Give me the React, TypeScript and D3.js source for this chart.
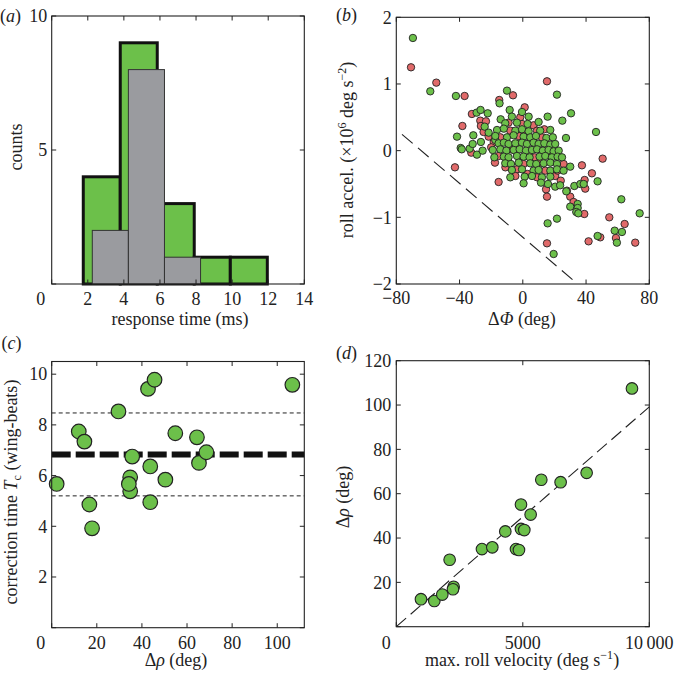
import React from 'react';
import * as d3 from 'd3';

const FONT = "'Liberation Serif', 'DejaVu Serif', serif";
const FS = 18;
const INK = '#222';
const GREEN = '#6cc04a';
const RED = '#e16a6a';
const GRAY = '#9a9b9f';

type Pt = [number, number];

// ---------- panel (a): response-time histograms ----------
const aGreenEdges = [1.75, 3.8, 5.85, 7.9, 9.9, 11.95];
const aGreenCounts = [4, 9, 3, 1, 1];
const aGrayEdges = [2.25, 4.25, 6.25, 8.25];
const aGrayCounts = [2, 8, 1];
const aXTicks = [0, 2, 4, 6, 8, 10, 12, 14];
const aYTicks = [0, 5, 10];
const aYLabels = [5, 10];

// ---------- panel (b): roll acceleration vs ΔΦ ----------
const bRed: Pt[] = [
  [-70.7, 1.25], [-54.7, 1.02], [-36.8, 0.82], [-42.9, -0.25], [-38.2, 0.37], [-32.2, 0.55],
  [-32.6, -0.03], [-26.9, 0.45], [-23.3, 0.44], [-26.5, 0.37], [-24.8, 0.28], [-21.6, 0.21],
  [-15.3, -0.47], [-17.6, -0.18], [-18.4, 0.13], [-14.9, 0.76], [-6.2, 0.83], [1.2, 0.65],
  [-1.6, 0.5], [-9, 0.42], [-0.5, 0.4], [6.8, 0.38], [-7.9, 0.3], [9, 0.3], [13.6, 0.32],
  [-14.2, 0.2], [-2.6, 0.22], [12.1, 0.2], [-2.6, 0.1], [-7.5, 0.02], [-15.3, -0.08], [7.5, -0.1],
  [0.5, -0.2], [11, -0.18], [25.8, -0.2], [-3.7, -0.28], [14.2, -0.3], [-4.7, -0.38], [9, -0.4],
  [20.5, -0.38], [14.7, -0.58], [15.3, 1.04], [37.4, -0.22], [43.7, -0.34], [50.5, -0.12],
  [39.1, -0.44], [39.5, -0.57], [27.9, -0.6], [30, -0.69], [32.1, -0.77], [38.9, -0.95],
  [15.3, -0.69], [15.3, -1.39], [54.7, -1.0], [64.4, -1.1], [58.9, -1.31], [49, -1.3],
  [41.6, -1.36], [71.1, -1.38], [2, 0.28], [5, 0.15], [-5, 0.0], [18, -0.1], [22, -0.3],
  [-20, 0.05], [-11, -0.25], [3, -0.35], [24, -0.45],
];
const bGreen: Pt[] = [
  [-69.5, 1.69], [-58.5, 0.89], [-42.3, 0.82], [-41.6, 0.21], [-39.3, 0.04], [-38.6, 0.02],
  [-31.3, 0.23], [-33.6, 0.03], [-29, -0.06], [-25.4, 0.0], [-29.2, 0.57], [-26.7, 0.61],
  [-22.2, 0.56], [-24.1, 0.36], [-21.6, 0.27], [-26.5, 0.13], [-31.7, 0.1], [-18, -0.1],
  [-17.4, 0.16], [-14.7, 0.71], [-10, 0.9], [-8.3, 0.61], [-14, 0.47], [-11.1, 0.41],
  [-6.9, 0.51], [-0.5, 0.58], [3.7, 0.51], [15.7, 0.51], [21.6, 0.84], [25, 0.45], [30.5, 0.56],
  [27.3, 0.19], [30, -0.24], [46.3, 0.28], [47.3, -0.46], [32.6, -0.53], [36.4, -0.5],
  [38.5, -0.5], [27.5, -0.61], [30, -0.84], [34.7, -0.8], [34.7, -0.86], [33.8, -0.92],
  [35.1, -0.94], [15.7, -1.09], [21.6, -1.02], [19.5, -1.55], [15.9, -0.5], [20.5, -0.54],
  [23.6, -0.52], [62.3, -0.73], [62.7, -1.22], [58.1, -1.2], [59.5, -1.38], [47.3, -1.28],
  [73.9, -0.94],
  [-3.7, 0.42], [3, 0.4], [10, 0.43],
  [-16.3, 0.31], [-12, 0.33], [-4.7, 0.3], [-0.5, 0.32], [3.7, 0.29], [11, 0.3], [17.4, 0.31],
  [-17.4, 0.22], [-10, 0.2], [-5.8, 0.23], [0.5, 0.21], [4.7, 0.2], [8.3, 0.22], [14.9, 0.19], [19, 0.2],
  [-15.3, 0.11], [-12, 0.12], [-9, 0.1], [-4.7, 0.11], [-0.5, 0.12], [2.6, 0.1], [6.8, 0.12],
  [10, 0.1], [13.6, 0.11], [17.4, 0.09], [20.5, 0.1],
  [-19, 0.01], [-14.2, 0.02], [-10.4, 0.0], [-5.8, 0.01], [-2, 0.02], [2, 0.0], [5.8, 0.01],
  [9, 0.02], [12.7, 0.0], [16.3, 0.01], [19.5, -0.01], [22.7, 0.0],
  [-12, -0.09], [-9, -0.1], [-3.7, -0.08], [0.5, -0.09], [4.3, -0.1], [10.6, -0.09], [14.2, -0.08],
  [18.4, -0.1], [22, -0.09], [24.8, -0.1],
  [-11.1, -0.19], [-7.5, -0.2], [-2.6, -0.18], [4.7, -0.19], [8.5, -0.2], [13.2, -0.19],
  [17.4, -0.18], [21.6, -0.2],
  [-6.9, -0.29], [-0.5, -0.28], [6.8, -0.3], [10, -0.29], [17.4, -0.3], [21.6, -0.28], [25.8, -0.3],
  [-7.9, -0.4], [1.2, -0.39], [5.8, -0.38], [12.1, -0.4], [17.4, -0.39],
  [0.5, -0.49], [11.5, -0.48],
];
const bGuide: Pt[] = [[-76.4, 0.245], [34.7, -2]];
const bXTicks = [-80, -40, 0, 40, 80];
const bYTicks = [-2, -1, 0, 1, 2];

// ---------- panel (c): correction time vs Δρ ----------
const cRho = [2.2, 12, 14.5, 16.7, 17.9, 29.6, 34.8, 34.8, 34.2, 35.7, 42.7, 45.6, 43.7, 43.7, 50.4, 54.8, 64.4, 65.3, 68.6, 106.7];
const cTc = [5.67, 7.74, 7.34, 4.86, 3.92, 8.53, 5.93, 5.38, 5.67, 6.75, 9.42, 9.78, 6.36, 4.95, 5.84, 7.67, 7.51, 6.5, 6.92, 9.58];
const cMean = 6.83;
const cUpper = 8.47;
const cLower = 5.2;
const cXTicks = [0, 20, 40, 60, 80, 100];
const cYTicks = [0, 2, 4, 6, 8, 10];
const cYLabels = [2, 4, 6, 8, 10];

// ---------- panel (d): Δρ vs max roll velocity ----------
const dVel = [975, 1502, 1818, 2108, 2266, 2240, 3386, 3794, 4308, 4730, 4848, 4928, 4928, 5059, 5310, 5731, 6495, 7523, 9315];
const dRho = [12.4, 11.6, 14.5, 30.2, 18.0, 16.9, 35.0, 35.8, 43.0, 35.0, 34.6, 55.1, 44.1, 43.6, 50.6, 66.3, 65.2, 69.4, 107.5];
const dFit: Pt[] = [[0, 0], [10000, 99.2]];
const dXTicks = [0, 5000, 10000];
const dYTicks = [0, 20, 40, 60, 80, 100, 120];
const dYLabels = [20, 40, 60, 80, 100, 120];

const fmtNum = (v: number) => {
  if (v >= 10000) return '10\u2009000';
  return v < 0 ? '\u2212' + Math.abs(v) : String(v);
};

type AxesProps = {
  xs: d3.ScaleLinear<number, number>;
  ys: d3.ScaleLinear<number, number>;
  xTicks: number[];
  yTicks: number[];
  xLabels: number[];
  yLabels: number[];
  xDx?: (v: number) => number;
  xLabelY: number;
  yLabelGap: number;
};

function Axes({ xs, ys, xTicks, yTicks, xLabels, yLabels, xDx, xLabelY, yLabelGap }: AxesProps) {
  const [L, R] = xs.range();
  const [B, T] = ys.range();
  const tl = 4.5;
  return (
    <g>
      <rect x={L} y={T} width={R - L} height={B - T} fill="none" stroke={INK} strokeWidth={1.1} />
      {xTicks.map((v) => (
        <g key={'xt' + v}>
          <line x1={xs(v)} x2={xs(v)} y1={B} y2={B - tl} stroke={INK} strokeWidth={1} />
          <line x1={xs(v)} x2={xs(v)} y1={T} y2={T + tl} stroke={INK} strokeWidth={1} />
        </g>
      ))}
      {yTicks.map((v) => (
        <g key={'yt' + v}>
          <line x1={L} x2={L + tl} y1={ys(v)} y2={ys(v)} stroke={INK} strokeWidth={1} />
          <line x1={R} x2={R - tl} y1={ys(v)} y2={ys(v)} stroke={INK} strokeWidth={1} />
        </g>
      ))}
      {xLabels.map((v) => (
        <text
          key={'xl' + v}
          x={xs(v) + (xDx ? xDx(v) : 0)}
          y={xLabelY}
          textAnchor="middle"
          fill={INK}
        >
          {fmtNum(v)}
        </text>
      ))}
      {yLabels.map((v) => (
        <text key={'yl' + v} x={L - yLabelGap} y={ys(v)} dy="0.35em" textAnchor="end" fill={INK}>
          {fmtNum(v)}
        </text>
      ))}
    </g>
  );
}

function PanelLabel({ x, y, letter }: { x: number; y: number; letter: string }) {
  return (
    <text x={x} y={y} fill={INK}>
      (<tspan fontStyle="italic">{letter}</tspan>)
    </text>
  );
}

export default function App() {
  const ax = d3.scaleLinear().domain([0, 14]).range([51.7, 304.3]);
  const ay = d3.scaleLinear().domain([0, 10]).range([284, 16]);
  const bx = d3.scaleLinear().domain([-80, 80]).range([396.3, 649.3]);
  const by = d3.scaleLinear().domain([-2, 2]).range([284, 17.3]);
  const cx = d3.scaleLinear().domain([0, 112]).range([51.7, 304.3]);
  const cy = d3.scaleLinear().domain([0, 10.5]).range([627.7, 361.5]);
  const dx = d3.scaleLinear().domain([0, 10000]).range([396.3, 649.3]);
  const dy = d3.scaleLinear().domain([0, 120]).range([626.7, 360.7]);

  const bLine = d3.line<Pt>().x((p) => bx(p[0])).y((p) => by(p[1]));
  const dLine = d3.line<Pt>().x((p) => dx(p[0])).y((p) => dy(p[1]));

  const zeroShift = (v: number) => (v === 0 ? -11 : 0);

  return (
    <svg
      width={675}
      height={673}
      viewBox="0 0 675 673"
      style={{ position: 'absolute', left: 0, top: 0, background: '#fff', fontFamily: FONT, fontSize: FS }}
    >
      <rect x={0} y={0} width={675} height={673} fill="#fff" />

      {/* ---------- (a) ---------- */}
      <g>
        {aGreenCounts.map((c, i) => (
          <rect
            key={'g' + i}
            x={ax(aGreenEdges[i])}
            y={ay(c)}
            width={ax(aGreenEdges[i + 1]) - ax(aGreenEdges[i])}
            height={ay(0) - ay(c)}
            fill={GREEN}
            stroke="#111"
            strokeWidth={3}
          />
        ))}
        {aGrayCounts.map((c, i) => (
          <rect
            key={'s' + i}
            x={ax(aGrayEdges[i])}
            y={ay(c)}
            width={ax(aGrayEdges[i + 1]) - ax(aGrayEdges[i])}
            height={ay(0) - ay(c)}
            fill={GRAY}
            stroke="#333"
            strokeWidth={1}
          />
        ))}
        <Axes
          xs={ax}
          ys={ay}
          xTicks={aXTicks}
          yTicks={aYTicks}
          xLabels={aXTicks}
          yLabels={aYLabels}
          xDx={zeroShift}
          xLabelY={305}
          yLabelGap={4.5}
        />
        <text x={180} y={325} textAnchor="middle" fill={INK}>response time (ms)</text>
        <text transform="translate(21.5,147) rotate(-90)" textAnchor="middle" fill={INK}>counts</text>
        <PanelLabel x={0} y={21.5} letter="a" />
      </g>

      {/* ---------- (b) ---------- */}
      <g>
        <path d={bLine(bGuide) ?? ''} fill="none" stroke={INK} strokeWidth={1.1} strokeDasharray="14 7" />
        {bRed.map((p, i) => (
          <circle key={'r' + i} cx={bx(p[0])} cy={by(p[1])} r={3.7} fill={RED} stroke="#222" strokeWidth={0.9} />
        ))}
        {bGreen.map((p, i) => (
          <circle key={'gr' + i} cx={bx(p[0])} cy={by(p[1])} r={3.7} fill={GREEN} stroke="#222" strokeWidth={0.9} />
        ))}
        <Axes
          xs={bx}
          ys={by}
          xTicks={bXTicks}
          yTicks={bYTicks}
          xLabels={bXTicks}
          yLabels={bYTicks}
          xLabelY={304}
          yLabelGap={4.5}
        />
        <text x={522} y={325} textAnchor="middle" fill={INK}>
          Δ<tspan fontStyle="italic">Φ</tspan> (deg)
        </text>
        <text transform="translate(353,150) rotate(-90)" textAnchor="middle" fill={INK}>
          roll accel. (×10<tspan dy={-7} fontSize={12}>6</tspan>
          <tspan dy={7}> deg s</tspan>
          <tspan dy={-7} fontSize={12}>−2</tspan>
          <tspan dy={7}>)</tspan>
        </text>
        <PanelLabel x={336} y={21} letter="b" />
      </g>

      {/* ---------- (c) ---------- */}
      <g>
        <line x1={cx(0)} x2={cx(112)} y1={cy(cUpper)} y2={cy(cUpper)} stroke={INK} strokeWidth={1} strokeDasharray="4 3" />
        <line x1={cx(0)} x2={cx(112)} y1={cy(cLower)} y2={cy(cLower)} stroke={INK} strokeWidth={1} strokeDasharray="4 3" />
        <line x1={cx(0)} x2={cx(112)} y1={cy(cMean)} y2={cy(cMean)} stroke="#111" strokeWidth={6} strokeDasharray="19 5" />
        {cRho.map((v, i) => (
          <circle key={'c' + i} cx={cx(v)} cy={cy(cTc[i])} r={7.3} fill={GREEN} stroke="#222" strokeWidth={1.2} />
        ))}
        <Axes
          xs={cx}
          ys={cy}
          xTicks={cXTicks}
          yTicks={cYTicks}
          xLabels={cXTicks}
          yLabels={cYLabels}
          xDx={zeroShift}
          xLabelY={648.5}
          yLabelGap={4.5}
        />
        <text x={176} y={666} textAnchor="middle" fill={INK}>
          Δ<tspan fontStyle="italic">ρ</tspan> (deg)
        </text>
        <text transform="translate(17,492) rotate(-90)" textAnchor="middle" fill={INK}>
          correction time <tspan fontStyle="italic">T</tspan>
          <tspan dy={4} fontSize={12}>c</tspan>
          <tspan dy={-4}> (wing-beats)</tspan>
        </text>
        <PanelLabel x={1.5} y={348.5} letter="c" />
      </g>

      {/* ---------- (d) ---------- */}
      <g>
        <path d={dLine(dFit) ?? ''} fill="none" stroke={INK} strokeWidth={1.1} strokeDasharray="13 6" />
        {dVel.map((v, i) => (
          <circle key={'d' + i} cx={dx(v)} cy={dy(dRho[i])} r={5.8} fill={GREEN} stroke="#222" strokeWidth={1.1} />
        ))}
        <Axes
          xs={dx}
          ys={dy}
          xTicks={dXTicks}
          yTicks={dYTicks}
          xLabels={dXTicks}
          yLabels={dYLabels}
          xDx={(v) => (v === 0 ? -10 : 0)}
          xLabelY={648.5}
          yLabelGap={5}
        />
        <text x={522} y={665.5} textAnchor="middle" fill={INK}>
          max. roll velocity (deg s<tspan dy={-7} fontSize={12}>−1</tspan>
          <tspan dy={7}>)</tspan>
        </text>
        <text transform="translate(349,497) rotate(-90)" textAnchor="middle" fill={INK}>
          Δ<tspan fontStyle="italic">ρ</tspan> (deg)
        </text>
        <PanelLabel x={336} y={358.5} letter="d" />
      </g>
    </svg>
  );
}
